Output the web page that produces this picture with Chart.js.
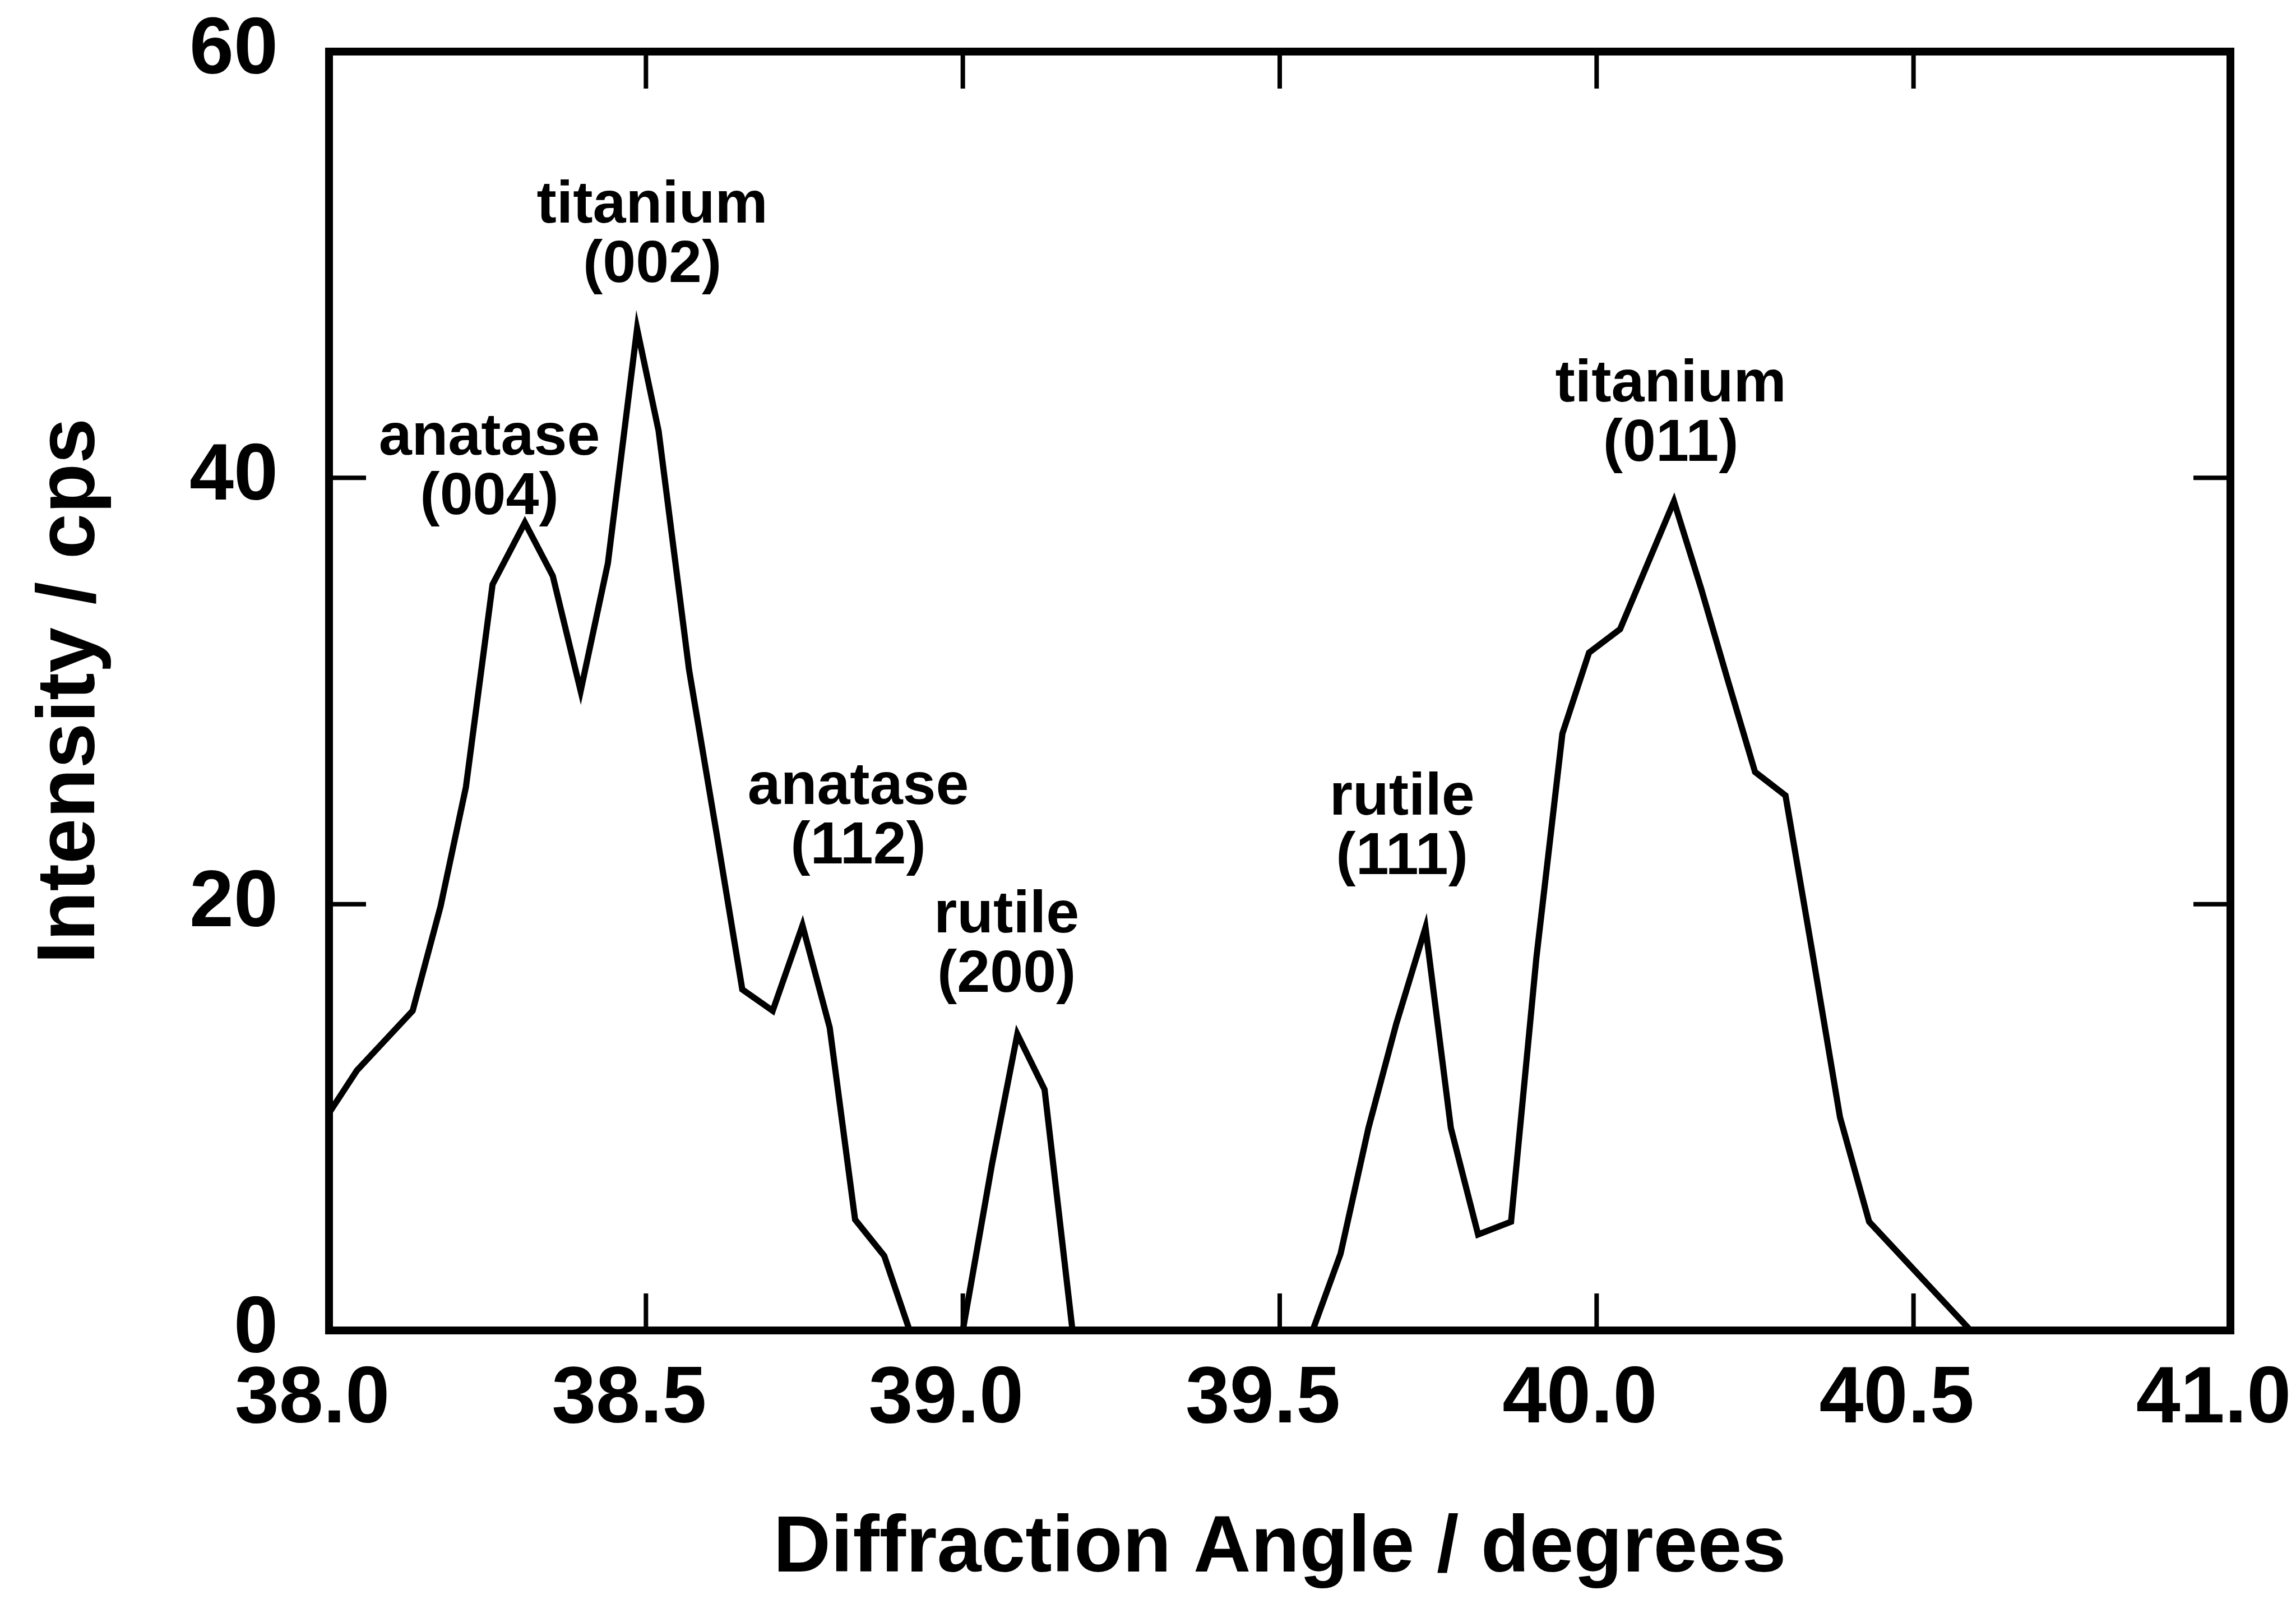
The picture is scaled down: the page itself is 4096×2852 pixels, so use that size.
<!DOCTYPE html>
<html>
<head>
<meta charset="utf-8">
<script src="https://cdn.jsdelivr.net/npm/chart.js@4.4.1/dist/chart.umd.min.js"></script>
<style>
  html, body { margin: 0; padding: 0; background: #fff; }
  canvas { display: block; }
</style>
</head>
<body>
<canvas id="xrdChart" width="4096" height="2852"></canvas>
<script>
// diffraction scan
const angles = [38.000, 38.044, 38.088, 38.132, 38.176, 38.216, 38.258, 38.309, 38.353, 38.397,
  38.440, 38.486, 38.520, 38.568, 38.611, 38.652, 38.700, 38.747, 38.790, 38.830,
  38.876, 38.916, 38.960, 39.000, 39.046, 39.086, 39.129, 39.173, 39.552, 39.596,
  39.640, 39.684, 39.730, 39.770, 39.813, 39.865, 39.905, 39.946, 39.988, 40.037,
  40.122, 40.165, 40.208, 40.250, 40.298, 40.340, 40.384, 40.430, 40.590, 41.000];
const intensity = [10.2, 12.2, 13.6, 15.0, 19.9, 25.5, 35.0, 37.9, 35.4, 30.0,
  36.0, 47.0, 42.2, 31.0, 23.4, 16.0, 15.0, 19.0, 14.2, 5.2,
  3.5, 0, 0, 0, 7.8, 13.9, 11.3, 0, 0, 3.6,
  9.5, 14.4, 18.9, 9.5, 4.5, 5.1, 17.5, 28.0, 31.8, 32.9,
  38.9, 34.8, 30.4, 26.2, 25.1, 17.8, 10.0, 5.1, 0, 0];

const xTicks = [38.0, 38.5, 39.0, 39.5, 40.0, 40.5, 41.0];
const yTicks = [0, 20, 40, 60];

// peak labels: name, reflection, where the second line sits
const peakNames = ['anatase', 'titanium', 'anatase', 'rutile', 'rutile', 'titanium'];
const peakHkl = ['(004)', '(002)', '(112)', '(200)', '(111)', '(011)'];
const peakLabelX = [38.253, 38.510, 38.835, 39.069, 39.693, 40.117];
const peakLabelY = [38.3, 49.2, 21.9, 15.9, 21.4, 40.8];

const FONT = '"Liberation Sans", Arial, sans-serif';

const peakLabels = {
  id: 'peakLabels',
  afterDatasetsDraw(chart) {
    const {ctx, scales: {x, y}} = chart;
    ctx.save();
    ctx.fillStyle = '#000';
    ctx.font = 'bold 106px ' + FONT;
    ctx.textAlign = 'center';
    ctx.textBaseline = 'alphabetic';
    peakNames.forEach((name, i) => {
      const px = x.getPixelForValue(peakLabelX[i]);
      const py = y.getPixelForValue(peakLabelY[i]);
      ctx.fillText(peakHkl[i], px, py);
      ctx.fillText(name, px, py - 106);
    });
    ctx.restore();
  }
};

// boxed frame with inward ticks on all four sides
const frameTicks = {
  id: 'frameTicks',
  afterDraw(chart) {
    const {ctx, chartArea: a, scales: {x, y}} = chart;
    const len = 66;
    ctx.save();
    ctx.strokeStyle = '#000';
    ctx.lineWidth = 8;
    xTicks.slice(1, -1).forEach(v => {
      const px = x.getPixelForValue(v);
      ctx.beginPath();
      ctx.moveTo(px, a.bottom); ctx.lineTo(px, a.bottom - len);
      ctx.moveTo(px, a.top); ctx.lineTo(px, a.top + len);
      ctx.stroke();
    });
    yTicks.slice(1, -1).forEach(v => {
      const py = y.getPixelForValue(v);
      ctx.beginPath();
      ctx.moveTo(a.left, py); ctx.lineTo(a.left + len, py);
      ctx.moveTo(a.right, py); ctx.lineTo(a.right - len, py);
      ctx.stroke();
    });
    ctx.lineWidth = 14;
    ctx.strokeRect(a.left, a.top, a.right - a.left, a.bottom - a.top);
    ctx.restore();
  }
};

// fixed axis boxes, no extra label overhang padding
const fixBox = size => s => {
  if (s.isHorizontal()) s.height = size; else s.width = size;
  s.paddingTop = 0; s.paddingBottom = 0; s.paddingLeft = 0; s.paddingRight = 0;
};

new Chart(document.getElementById('xrdChart'), {
  type: 'line',
  data: {
    datasets: [{
      data: angles.map((a, i) => ({x: a, y: intensity[i]})),
      borderColor: '#000',
      borderWidth: 11,
      pointRadius: 0,
      tension: 0,
      fill: false
    }]
  },
  options: {
    responsive: false,
    devicePixelRatio: 1,
    animation: false,
    layout: {padding: {top: 92, right: 117, bottom: 0, left: 0}},
    plugins: {legend: {display: false}, tooltip: {enabled: false}},
    scales: {
      x: {
        type: 'linear',
        min: 38, max: 41,
        afterBuildTicks: s => { s.ticks = xTicks.map(v => ({value: v})); },
        afterFit: fixBox(479),
        grid: {display: false, drawTicks: false},
        border: {display: false},
        ticks: {
          color: '#000',
          padding: 40,
          labelOffset: -30,
          maxRotation: 0,
          font: {family: FONT, size: 142, weight: 'bold'},
          callback: v => Number(v).toFixed(1)
        },
        title: {
          display: true,
          text: 'Diffraction Angle / degrees',
          color: '#000',
          padding: {top: 0, bottom: 3},
          font: {family: FONT, size: 142, weight: 'bold'}
        }
      },
      y: {
        type: 'linear',
        min: 0, max: 60,
        afterBuildTicks: s => { s.ticks = yTicks.map(v => ({value: v})); },
        afterFit: fixBox(587),
        grid: {display: false, drawTicks: false},
        border: {display: false},
        ticks: {
          color: '#000',
          padding: 91,
          font: {family: FONT, size: 142, weight: 'bold'}
        },
        title: {
          display: true,
          text: 'Intensity / cps',
          color: '#000',
          padding: {top: 40, bottom: 0},
          font: {family: FONT, size: 146, weight: 'bold'}
        }
      }
    }
  },
  plugins: [peakLabels, frameTicks]
});
</script>
</body>
</html>
